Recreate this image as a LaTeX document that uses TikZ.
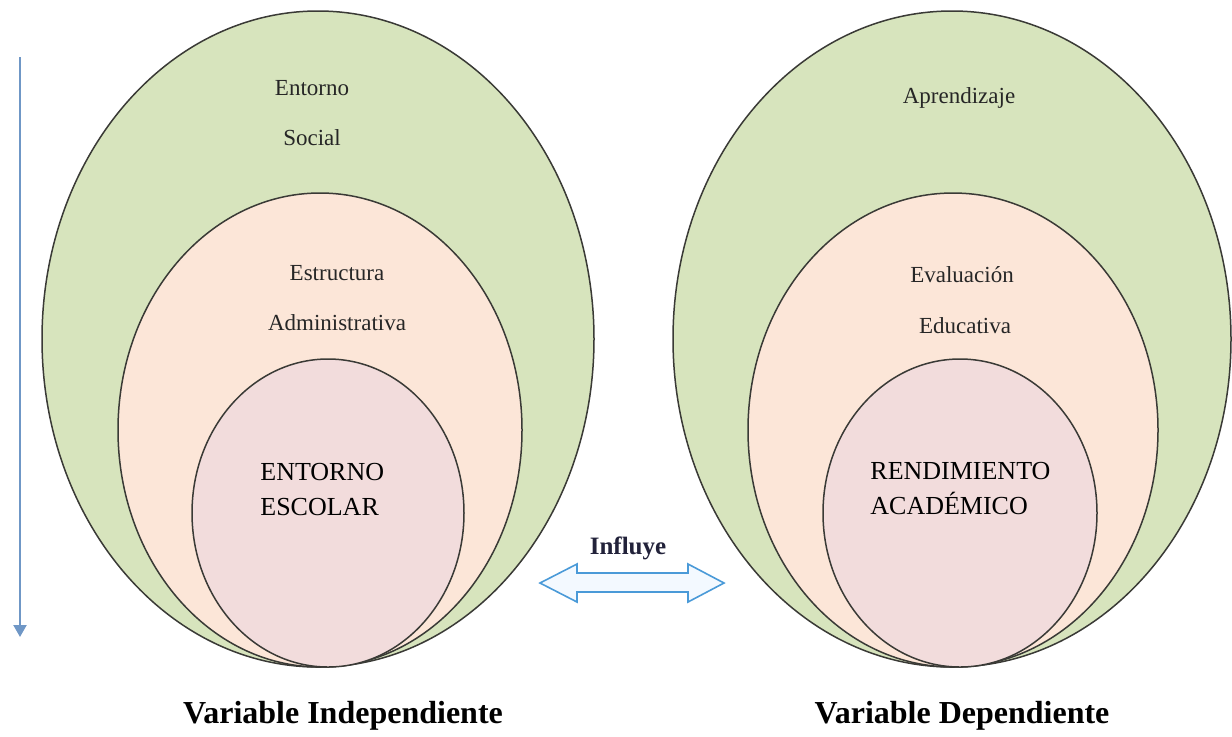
\documentclass[tikz,border=0pt]{standalone}
\usepackage{fontspec}
\setmainfont{LiberationSerif}[Extension=.ttf, UprightFont=*-Regular, BoldFont=*-Bold, ItalicFont=*-Italic, BoldItalicFont=*-BoldItalic]
\usetikzlibrary{shapes.geometric,arrows.meta}
\definecolor{outerg}{HTML}{D7E4BD}
\definecolor{midp}{HTML}{FCE6D8}
\definecolor{innerp}{HTML}{F2DCDC}
\definecolor{edgec}{HTML}{3A3A36}
\definecolor{vblue}{HTML}{6F97C6}
\definecolor{ablue}{HTML}{4A9AD8}
\definecolor{afill}{HTML}{F3F9FF}
\definecolor{infc}{HTML}{22223A}
\tikzset{
  ring/.style={ellipse, draw=edgec, line width=0.75pt, inner sep=0pt},
  small/.style={font=\fontsize{11.5}{13}\selectfont, text=black!85, inner sep=0pt},
  caps/.style={font=\fontsize{13}{17.5}\selectfont, align=left, inner sep=0pt},
  varlabel/.style={font=\fontsize{16}{19}\selectfont\bfseries, inner sep=0pt},
}
\begin{document}
\begin{tikzpicture}[x=0.5pt,y=-0.5pt]
\useasboundingbox (0,0) rectangle (1232,736);
\fill[white] (0,0) rectangle (1232,736);
% left set
\node[ring, fill=outerg, minimum width=276pt, minimum height=328pt] (LO) at (318,339) {};
\node[ring, fill=midp, minimum width=202pt, minimum height=237pt] (LM) at (320,430) {};
\node[ring, fill=innerp, minimum width=136pt, minimum height=154pt] (LI) at (328,513) {};
% right set
\node[ring, fill=outerg, minimum width=279pt, minimum height=328pt] (RO) at (952,339) {};
\node[ring, fill=midp, minimum width=205pt, minimum height=237pt] (RM) at (953,430) {};
\node[ring, fill=innerp, minimum width=137pt, minimum height=154pt] (RI) at (960,513) {};
% texts
\node[small] (t1) at (312,88) {Entorno};
\node[small] (t2) at (312,138) {Social};
\node[small] (t3) at (337,273) {Estructura};
\node[small] (t4) at (337,323) {Administrativa};
\node[caps, anchor=north west] (t5) at (260,463) {ENTORNO\\ESCOLAR};
\node[small] (t6) at (959,98) {Aprendizaje};
\node[small] (t7) at (962,275) {Evaluación};
\node[small] (t8) at (965,326) {Educativa};
\node[caps, anchor=north west] (t9) at (870,462) {RENDIMIENTO\\ACADÉMICO};
% influence arrow
\node[font=\fontsize{12.5}{14}\selectfont\bfseries, text=infc, inner sep=0pt] (inf) at (628,548) {Influye};
\coordinate (aL) at (540,583);
\coordinate (aR) at (724,583);
\draw[draw=ablue, fill=afill, line width=0.8pt, line join=miter]
  (aL) -- (577,564) -- (577,573) -- (688,573) -- (688,564) -- (aR)
  -- (688,602) -- (688,592) -- (577,592) -- (577,602) -- cycle;
% vertical arrow
\coordinate (vtop) at (20,57);
\coordinate (vbot) at (20,637);
\draw[vblue, line width=1.1pt, -{Triangle[width=6.5pt,length=6pt]}] (vtop) -- (vbot);
% variable labels
\node[varlabel] (vi) at (343,716) {Variable Independiente};
\node[varlabel] (vd) at (962,716) {Variable Dependiente};
\end{tikzpicture}
\end{document}
